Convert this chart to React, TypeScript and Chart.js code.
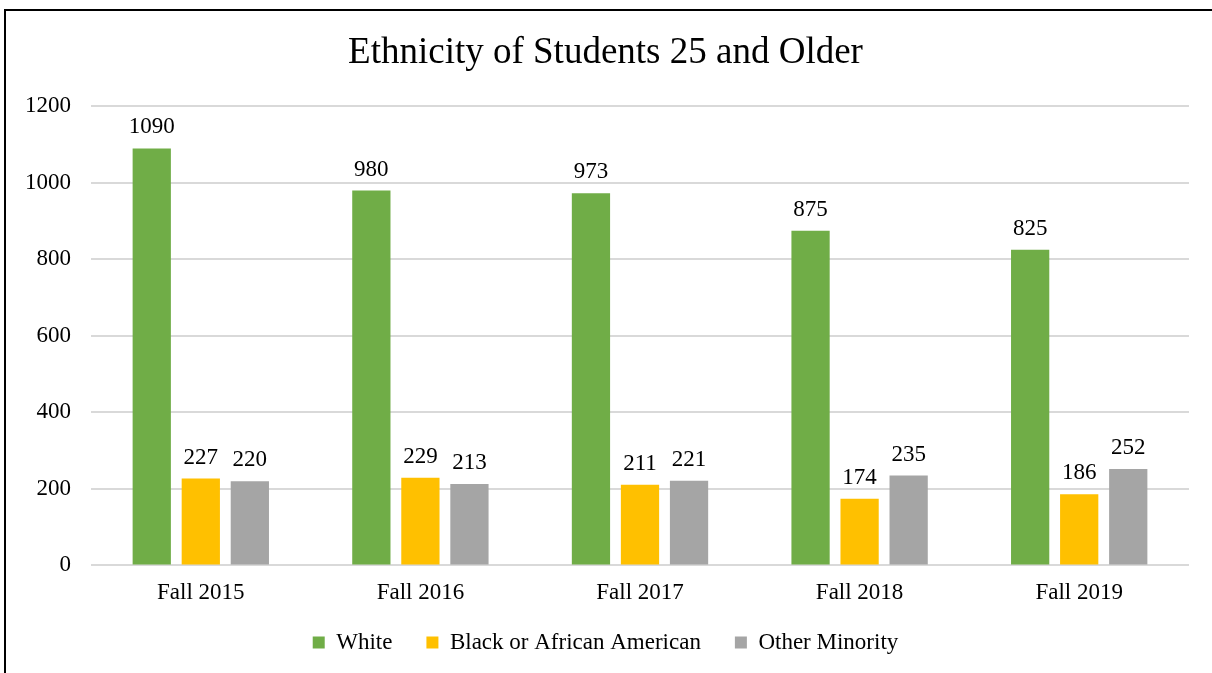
import React, { useEffect, useRef } from "react";
import { Chart, registerables } from "chart.js";

Chart.register(...registerables);

const categories = ["Fall 2015", "Fall 2016", "Fall 2017", "Fall 2018", "Fall 2019"];
const whiteValues = [1090, 980, 973, 875, 825];
const blackValues = [227, 229, 211, 174, 186];
const otherValues = [220, 213, 221, 235, 252];
const yTicks = [0, 200, 400, 600, 800, 1000, 1200];

const FONT = "'Times New Roman', 'Liberation Serif', serif";

const dataLabels = {
  id: "dataLabels",
  afterDatasetsDraw(chart: any) {
    const ctx = chart.ctx;
    ctx.save();
    ctx.font = `23px ${FONT}`;
    ctx.fillStyle = "#000";
    ctx.textAlign = "center";
    ctx.textBaseline = "alphabetic";
    chart.data.datasets.forEach((ds: any, i: number) => {
      const meta = chart.getDatasetMeta(i);
      meta.data.forEach((el: any, j: number) => {
        ctx.fillText(String(ds.data[j]), el.x, el.y - 15);
      });
    });
    ctx.restore();
  },
};

const LEGEND_SHIFT = 24;

const legendHeightFix = {
  id: "legendHeightFix",
  afterInit(chart: any) {
    const lg = chart.legend;
    if (!lg || lg.__patched) return;
    const orig = lg.fit.bind(lg);
    lg.fit = function () {
      orig();
      this.height = 52;
    };
    lg.__patched = true;
  },
  afterLayout(chart: any) {
    const lg = chart.legend;
    if (!lg) return;
    lg.top -= LEGEND_SHIFT;
    lg.height += LEGEND_SHIFT;
  },
};

export default function App() {
  const ref = useRef<HTMLCanvasElement>(null);
  useEffect(() => {
    if (!ref.current) return;
    const chart = new Chart(ref.current, {
      type: "bar",
      data: {
        labels: categories,
        datasets: [
          { label: "White", data: whiteValues, backgroundColor: "#70AD47" },
          { label: "Black or African American", data: blackValues, backgroundColor: "#FFC000" },
          { label: "Other Minority", data: otherValues, backgroundColor: "#A5A5A5" },
        ],
      },
      options: {
        animation: false,
        responsive: false,
        maintainAspectRatio: false,
        devicePixelRatio: 1,
        layout: { padding: { left: 16, right: 23, top: 0, bottom: 0 } },
        datasets: { bar: { categoryPercentage: 0.67, barPercentage: 0.78 } } as any,
        plugins: {
          title: {
            display: true,
            text: "Ethnicity of Students 25 and Older",
            color: "#000",
            font: { family: FONT, size: 37, weight: "normal" as any },
            padding: { top: 20, bottom: 31 },
          },
          legend: {
            position: "bottom",
            labels: {
              color: "#000",
              font: { family: FONT, size: 23 },
              boxWidth: 12,
              boxHeight: 12,
              padding: 34,
            },
          },
          tooltip: { enabled: false },
        },
        scales: {
          x: {
            grid: { display: false, drawTicks: false },
            border: { display: false },
            ticks: { color: "#000", font: { family: FONT, size: 23 }, padding: 14 },
          },
          y: {
            min: 0,
            max: 1200,
            afterBuildTicks(scale: any) {
              scale.ticks = yTicks.map((v) => ({ value: v }));
            },
            afterFit(scale: any) {
              scale.width = 69;
            },
            grid: { color: "#D9D9D9", lineWidth: 2, drawTicks: false },
            border: { display: false },
            ticks: {
              color: "#000",
              font: { family: FONT, size: 23 },
              padding: 20,
              callback: (v: any) => String(v),
            },
          },
        },
      },
      plugins: [dataLabels, legendHeightFix],
    });
    return () => chart.destroy();
  }, []);

  return (
    <div
      style={{
        position: "absolute",
        left: 4,
        top: 9,
        width: 1208,
        height: 664,
        borderTop: "2px solid #000",
        borderLeft: "2px solid #000",
        boxSizing: "border-box",
        background: "#fff",
      }}
    >
      <canvas ref={ref} width={1206} height={662} style={{ display: "block" }} />
    </div>
  );
}
